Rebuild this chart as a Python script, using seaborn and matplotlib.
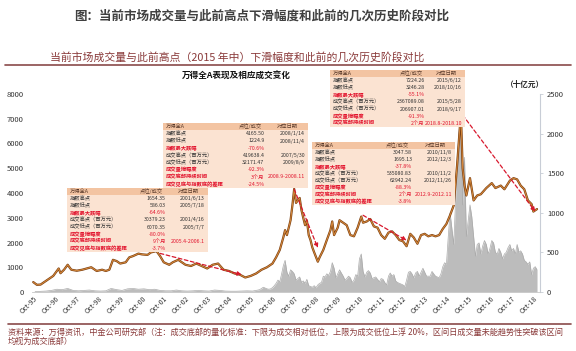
import numpy as np
import pandas as pd
import seaborn as sns
import matplotlib.pyplot as plt
import matplotlib.dates as mdates
from matplotlib.patches import Rectangle

# 万得全A 指数 (左轴)
idx_dates = ["1995-10", "1995-12", "1996-02", "1996-04", "1996-06", "1996-09", "1996-12",
             "1997-01", "1997-03", "1997-05", "1997-07", "1997-10", "1998-01", "1998-04",
             "1998-06", "1998-09", "1998-12", "1999-02", "1999-04", "1999-06", "1999-08",
             "1999-10", "2000-01", "2000-03", "2000-05", "2000-08", "2000-10", "2001-01",
             "2001-03", "2001-06", "2001-08", "2001-10", "2002-01", "2002-03", "2002-06",
             "2002-08", "2002-10", "2003-01", "2003-04", "2003-07", "2003-10", "2004-01",
             "2004-04", "2004-07", "2004-10", "2005-01", "2005-04", "2005-07", "2005-10",
             "2006-01", "2006-04", "2006-07", "2006-10", "2006-12", "2007-02", "2007-04",
             "2007-05", "2007-06", "2007-08", "2007-09", "2007-10", "2007-11", "2008-01",
             "2008-02", "2008-03", "2008-04", "2008-05", "2008-06", "2008-07", "2008-08",
             "2008-09", "2008-11", "2008-12", "2009-02", "2009-04", "2009-06", "2009-07",
             "2009-08", "2009-10", "2009-11", "2010-01", "2010-03", "2010-05", "2010-07",
             "2010-09", "2010-11", "2010-12", "2011-02", "2011-04", "2011-06", "2011-08",
             "2011-10", "2011-12", "2012-02", "2012-04", "2012-06", "2012-08", "2012-10",
             "2012-12", "2013-02", "2013-04", "2013-06", "2013-08", "2013-10", "2013-12",
             "2014-02", "2014-04", "2014-06", "2014-08", "2014-10", "2014-12", "2015-02",
             "2015-04", "2015-06", "2015-07", "2015-08", "2015-09", "2015-11", "2016-01",
             "2016-03", "2016-05", "2016-08", "2016-11", "2017-01", "2017-04", "2017-06",
             "2017-09", "2017-11", "2018-01", "2018-03", "2018-05", "2018-07", "2018-09",
             "2018-10", "2018-12"]
idx_vals = [400, 290, 300, 400, 500, 650, 950,
            760, 900, 1100, 900, 860, 900, 960,
            1000, 850, 900, 850, 900, 1300, 1250,
            1150, 1200, 1400, 1450, 1550, 1520, 1500,
            1600, 1654, 1450, 1200, 1100, 1200, 1300,
            1200, 1100, 1050, 1150, 1050, 950, 1100,
            1150, 900, 850, 750, 700, 586, 650,
            750, 900, 1000, 1150, 1400, 1700, 2200,
            2500, 2300, 2900, 3500, 4165, 3600, 3800,
            3300, 3000, 2700, 2900, 2300, 2100, 1800,
            1600, 1225, 1400, 1700, 2100, 2500, 2850,
            2300, 2600, 2900, 2800, 2700, 2300, 2250,
            2600, 3048, 2800, 2850, 2950, 2650, 2600,
            2300, 2150, 2400, 2450, 2300, 2100, 2050,
            1850, 2350, 2200, 1950, 2300, 2350, 2250,
            2300, 2250, 2300, 2550, 2750, 3100, 3500,
            5200, 7224, 5000, 4300, 3900, 4600, 3700,
            3900, 3950, 4200, 4400, 4200, 4300, 4150,
            4500, 4600, 4550, 4300, 4150, 3700, 3550,
            3250, 3350]

# 成交额 (十亿元, 右轴)
vol_early = [5, 8, 12, 20, 35, 30, 45, 20, 15, 20, 25, 15, 12, 15, 45, 30, 20,
             40, 45, 35, 40, 30, 35, 20, 15, 15, 25, 15, 12, 15, 20, 15, 12,
             25, 20, 12, 10, 10, 12, 15, 12]
vol_late = [20, 25, 30, 45, 60, 50, 40, 35, 40, 55, 80, 110,
            150, 130, 220, 330, 400, 250, 200, 280, 260, 230, 150, 170,
            190, 120, 140, 110, 160, 80, 70, 60, 80, 55, 90, 110,
            120, 200, 190, 230, 210, 260, 370, 300, 180, 230, 280, 240,
            200, 150, 170, 200, 180, 120, 150, 220, 200, 420, 480, 260,
            190, 250, 270, 240, 170, 180, 190, 160, 130, 170, 160, 120,
            90, 200, 240, 200, 220, 140, 120, 110, 100, 90, 70, 150,
            250, 260, 230, 180, 240, 260, 200, 250, 300, 250, 200, 200,
            200, 260, 230, 200, 190, 180, 230, 320, 370, 350, 700, 1000,
            800, 600, 1100, 1700, 2000, 2350, 1100, 1700, 700, 900, 1100, 950,
            700, 450, 600, 620, 480, 580, 650, 600, 480, 550, 650, 620,
            500, 480, 550, 500, 420, 480, 500, 560, 600, 520, 550, 480,
            600, 500, 520, 480, 400, 380, 350, 380, 220, 300, 320, 280]

# 红色虚线箭头: (起点日期, 起点值, 终点日期, 终点值)
arrow_start_dates = ["2001-08", "2007-10", "2010-12", "2015-07"]
arrow_start_vals = [1560, 4150, 3100, 7150]
arrow_end_dates = ["2005-05", "2008-11", "2012-12", "2018-11"]
arrow_end_vals = [700, 1780, 2080, 3250]

header = ["万得全A", "点位/成交", "对应日期"]
row_names = ["指数高点", "指数低点", "指数最大跌幅", "成交高点（百万元）", "成交低点（百万元）",
             "成交量缩幅度", "成交底部持续时间", "成交见底与指数底的差距"]
red_rows = [2, 5, 6, 7]
t1_vals = ["1654.35", "586.03", "-64.6%", "30379.23", "6070.35", "-80.0%", "9个月", "-3.7%"]
t1_dates = ["2001/6/13", "2005/7/18", "", "2001/4/16", "2005/7/7", "", "2005.4-2006.1", ""]
t2_vals = ["4165.50", "1224.9", "-70.6%", "419638.4", "32171.47", "-92.3%", "3个月", "-24.5%"]
t2_dates = ["2008/1/14", "2008/11/4", "", "2007/5/30", "2009/8/9", "", "2008.9-2008.11", ""]
t3_vals = ["3047.58", "1695.13", "-37.8%", "535080.83", "62942.24", "-88.3%", "2个月", "-3.8%"]
t3_dates = ["2010/11/8", "2012/12/3", "", "2010/11/2", "2012/11/26", "", "2012.9-2012.11", ""]
t4_vals = ["7224.26", "3246.28", "-55.1%", "2367089.08", "206907.01", "-91.3%", "2个月"]
t4_dates = ["2015/6/12", "2018/10/16", "", "2015/5/28", "2018/9/17", "", "2018.8-2018.10"]

sns.set_theme(style="white")
plt.rcParams['font.family'] = ['Noto Sans CJK SC', 'DejaVu Sans']

W, H = 576, 351
fig = plt.figure(figsize=(W / 100, H / 100), dpi=100)

def fx(x):
    return x / W

def fy(y):
    return 1 - y / H

ax = fig.add_axes([fx(32), fy(292), (540 - 32) / W, (292 - 94) / H])
ax2 = ax.twinx()

df_idx = pd.DataFrame({"date": pd.to_datetime(idx_dates), "val": idx_vals})
vol_dates = list(pd.date_range("1995-11-01", "2005-11-01", freq="3MS")) + \
    list(pd.date_range("2006-01-01", "2018-12-01", freq="MS"))
df_vol = pd.DataFrame({"date": vol_dates, "vol": vol_early + vol_late})

ax2.fill_between(df_vol["date"], 0, df_vol["vol"], color="#bcbcbc", lw=0)
sns.lineplot(data=df_vol, x="date", y="vol", ax=ax2, color="#ababab", lw=0.5)
ax2.set_ylim(0, 2500)
ax2.set_yticks([0, 500, 1000, 1500, 2000, 2500])

sns.lineplot(data=df_idx, x="date", y="val", ax=ax, color="#7b3f10", lw=1.6)
sns.lineplot(data=df_idx, x="date", y="val", ax=ax, color="#d6893c", lw=0.7)
ax.set_zorder(ax2.get_zorder() + 1)
ax.patch.set_visible(False)
ax.set_ylim(0, 8000)
ax.set_yticks(range(0, 8001, 1000))
ax.set_xlim(pd.Timestamp("1995-09-10"), pd.Timestamp("2019-01-20"))
ax.xaxis.set_major_locator(mdates.MonthLocator(bymonth=10))
ax.xaxis.set_major_formatter(mdates.DateFormatter("%b-%y"))

for a in (ax, ax2):
    a.set_xlabel("")
    a.set_ylabel("")
    for s in a.spines.values():
        s.set_visible(False)
ax.spines["bottom"].set_visible(True)
ax.spines["bottom"].set_color("#c8c8c8")
ax.spines["bottom"].set_linewidth(0.6)
ax2.spines["right"].set_visible(True)
ax2.spines["right"].set_color("#c8cdd6")
ax2.spines["right"].set_linewidth(0.8)

ax.tick_params(axis="y", labelsize=5.5, colors="#333333", length=0, pad=6)
ax.tick_params(axis="x", labelsize=5, colors="#333333", length=0, pad=2)
plt.setp(ax.get_xticklabels(), rotation=45, ha="right", rotation_mode="anchor")
ax2.tick_params(axis="y", labelsize=5.5, colors="#333333", length=2, width=0.6,
                color="#c8cdd6", pad=3)

for sd, sv, ed, ev in zip(arrow_start_dates, arrow_start_vals, arrow_end_dates, arrow_end_vals):
    ax.annotate("", xy=(pd.Timestamp(ed), ev), xytext=(pd.Timestamp(sd), sv),
                arrowprops=dict(arrowstyle="-|>", color="#d8182d", lw=0.9, ls=(0, (3, 2)),
                                mutation_scale=6, shrinkA=0, shrinkB=0))

# 表格
hdr_c, body_c, red_c = "#f3c4a2", "#fbe3d2", "#e2132d"

def draw_table(x0, y0, w, rh, vals, dates):
    n = len(vals) + 1
    fig.add_artist(Rectangle((fx(x0), fy(y0 + rh)), w / W, rh / H,
                             transform=fig.transFigure, color=hdr_c, lw=0, zorder=5))
    fig.add_artist(Rectangle((fx(x0), fy(y0 + n * rh)), w / W, (n - 1) * rh / H,
                             transform=fig.transFigure, color=body_c, lw=0, zorder=5))
    cy = fy(y0 + rh / 2)
    fig.text(fx(x0 + 3), cy, header[0], fontsize=3.8, va="center", zorder=6, color="#5a3a2a")
    fig.text(fx(x0 + 0.6 * w), cy, header[1], fontsize=3.8, va="center", ha="center",
             zorder=6, color="#5a3a2a")
    fig.text(fx(x0 + 0.86 * w), cy, header[2], fontsize=3.8, va="center", ha="center",
             zorder=6, color="#5a3a2a")
    for i, (v, d) in enumerate(zip(vals, dates)):
        cy = fy(y0 + (i + 1.5) * rh)
        c = red_c if i in red_rows else "#333333"
        wt = "bold" if i in red_rows else "normal"
        fig.text(fx(x0 + 3), cy, row_names[i], fontsize=3.8, va="center", color=c,
                 weight=wt, zorder=6)
        fig.text(fx(x0 + 0.7 * w), cy, v, fontsize=3.8, va="center", ha="right", color=c,
                 zorder=6)
        fig.text(fx(x0 + w - 3), cy, d, fontsize=3.8, va="center", ha="right", color=c,
                 zorder=6)

draw_table(67, 188, 141, 7.1, t1_vals, t1_dates)
draw_table(163, 123, 145, 7.2, t2_vals, t2_dates)
draw_table(312, 142, 143, 7.0, t3_vals, t3_dates)
draw_table(330, 70, 135, 7.1, t4_vals, t4_dates)

# 标题与注释
fig.text(fx(262), fy(16), "图：当前市场成交量与此前高点下滑幅度和此前的几次历史阶段对比",
         ha="center", va="center", fontsize=9, weight="bold", color="#404040")
fig.text(fx(50), fy(57), "当前市场成交量与此前高点（2015 年中）下滑幅度和此前的几次历史阶段对比",
         ha="left", va="center", fontsize=7.8, style="italic", color="#8a3a3a")
fig.add_artist(plt.Line2D([fx(5), fx(571)], [fy(65), fy(65)], color="#8a4a4a", lw=1.2,
                          transform=fig.transFigure))
fig.text(fx(236), fy(76), "万得全A表现及相应成交变化", ha="center", va="center",
         fontsize=6.2, weight="bold", color="#111111")
fig.text(fx(525), fy(84), "（十亿元）", ha="center", va="center", fontsize=5.5,
         weight="bold", color="#222222")
fig.add_artist(plt.Line2D([fx(8), fx(571)], [fy(324), fy(324)], color="#8a4a4a", lw=1.2,
                          transform=fig.transFigure))
fig.text(fx(8), fy(332), "资料来源：万得资讯，中金公司研究部（注：成交底部的量化标准：下限为成交相对低位，"
         "上限为成交低位上浮 20%，区间日成交量未能趋势性突破该区间",
         ha="left", va="center", fontsize=5.9, color="#8a3a3a")
fig.text(fx(8), fy(341), "均视为成交底部）", ha="left", va="center", fontsize=5.9, color="#8a3a3a")

fig.savefig("out.png", dpi=100)
